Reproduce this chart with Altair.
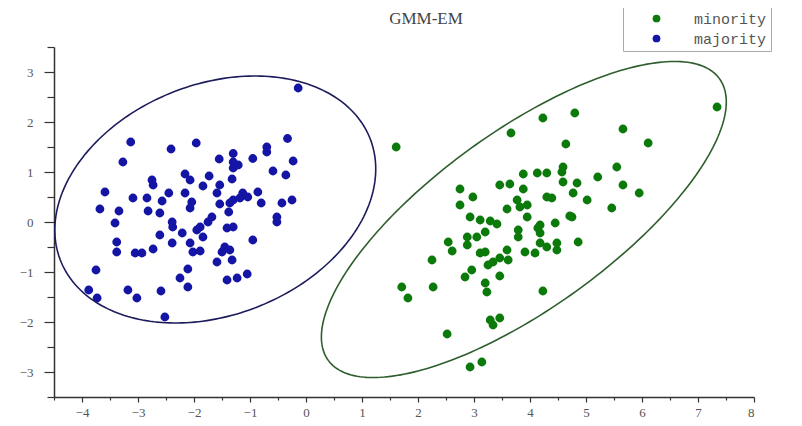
import altair as alt
import numpy as np
import pandas as pd

# ---- data ----
maj_x = [-0.14, -3.13, -1.96, -2.41, -0.33, -0.70, -0.70, -1.30, -3.27, -1.55,
         -1.30, -0.95, -0.23, -1.21, -1.30, -0.59, -0.36, -2.16, -1.73, -2.07,
         -2.75, -1.32, -2.73, -1.84, -1.54, -3.59, -2.45, -2.16, -1.59, -1.13,
         -0.86, -3.09, -2.84, -2.57, -2.04, -1.30, -1.18, -1.04, -0.80, -0.43,
         -0.25, -1.54, -3.68, -3.34, -2.82, -2.61, -2.07, -1.38, -0.52, -0.52,
         -3.41, -2.39, -2.38, -1.89, -1.75, -1.68, -1.30, -1.41, -2.61, -2.21,
         -1.84, -1.95, -0.95, -3.38, -2.39, -2.07, -1.45, -3.38, -3.05, -2.93,
         -2.73, -2.02, -1.89, -1.50, -1.36, -1.59, -1.32, -3.75, -2.11, -2.25,
         -1.41, -1.23, -1.05, -2.11, -3.88, -3.18, -2.59, -3.73, -3.02, -2.52,
         -1.36]
maj_y = [2.68, 1.60, 1.58, 1.46, 1.67, 1.50, 1.40, 1.37, 1.20, 1.26,
         1.20, 1.27, 1.22, 1.14, 1.08, 1.02, 0.94, 0.96, 0.92, 0.84,
         0.84, 0.86, 0.74, 0.72, 0.74, 0.60, 0.58, 0.58, 0.58, 0.58,
         0.60, 0.48, 0.48, 0.42, 0.40, 0.44, 0.48, 0.50, 0.38, 0.38,
         0.44, 0.36, 0.26, 0.22, 0.22, 0.18, 0.28, 0.20, 0.10, 0.00,
         -0.02, 0.00, -0.10, -0.10, 0.00, 0.10, -0.10, -0.12, -0.26, -0.22,
         -0.30, -0.16, -0.36, -0.40, -0.42, -0.42, -0.50, -0.60, -0.62, -0.62,
         -0.54, -0.60, -0.58, -0.60, -0.56, -0.80, -0.76, -0.96, -0.94, -1.12,
         -1.16, -1.12, -1.04, -1.30, -1.36, -1.36, -1.38, -1.52, -1.52, -1.90,
         0.38]

min_x = [7.34, 4.80, 4.23, 3.66, 5.66, 6.11, 4.64, 1.61, 4.59, 5.55,
         5.21, 3.88, 4.13, 4.30, 4.57, 4.59, 4.84, 5.66, 5.95, 3.46,
         3.64, 3.88, 2.75, 2.98, 2.75, 4.30, 4.77, 5.02, 3.77, 3.59,
         3.82, 4.71, 5.46, 3.95, 4.18, 4.45, 4.75, 2.93, 3.11, 3.29,
         3.41, 4.39, 4.14, 4.18, 3.79, 3.79, 3.20, 3.05, 2.88, 2.54,
         2.61, 2.88, 3.11, 3.20, 3.59, 3.46, 3.34, 3.25, 3.61, 3.91,
         4.09, 4.18, 4.30, 4.48, 4.48, 4.86, 2.25, 2.96, 2.84, 3.46,
         2.27, 3.20, 3.23, 1.71, 1.82, 4.23, 3.29, 3.46, 3.34, 2.52,
         2.93, 3.14, 3.95]
min_y = [2.30, 2.18, 2.08, 1.78, 1.86, 1.58, 1.56, 1.50, 1.10, 1.10,
         0.90, 0.96, 0.98, 0.98, 1.00, 0.80, 0.78, 0.74, 0.58, 0.74,
         0.76, 0.66, 0.66, 0.50, 0.34, 0.50, 0.58, 0.44, 0.44, 0.26,
         0.30, 0.12, 0.28, 0.10, -0.06, -0.02, 0.10, 0.10, 0.04, 0.02,
         -0.04, 0.48, -0.12, -0.22, -0.16, -0.30, -0.20, -0.30, -0.30, -0.40,
         -0.58, -0.46, -0.62, -0.60, -0.56, -0.72, -0.80, -0.86, -0.76, -0.60,
         -0.62, -0.42, -0.50, -0.56, -0.42, -0.40, -0.76, -0.96, -1.10, -1.08,
         -1.30, -1.22, -1.40, -1.30, -1.52, -1.38, -1.96, -1.92, -2.06, -2.24,
         -2.90, -2.80, 0.34]

classes = ["minority", "majority"]
colors = ["#0b7a0b", "#1414a5"]

# ellipse parameters (center and covariance-like shape matrix)
ell_names = ["minority", "majority"]
ell_cx = [3.89, -1.62]
ell_cy = [0.05, 0.45]
ell_sxx = [13.07, 8.21]
ell_syy = [9.99, 6.10]
ell_sxy = [8.5, 1.75]
ell_colors = ["#2e5e2e", "#1c1c5c"]

x_major = list(range(-4, 9))
y_major = list(range(-3, 4))
x_minor = [v + 0.5 for v in range(-5, 8)]
y_minor = [v + 0.5 for v in range(-4, 4)]

title_text = ["GMM-EM"]

# ---- build tables ----
pts = pd.DataFrame({
    "x": min_x + maj_x,
    "y": min_y + maj_y,
    "cls": ["minority"] * len(min_x) + ["majority"] * len(maj_x),
})

t = np.linspace(0, 2 * np.pi, 241)
rows = []
for name, cx, cy, sxx, syy, sxy in zip(ell_names, ell_cx, ell_cy, ell_sxx, ell_syy, ell_sxy):
    L = np.linalg.cholesky(np.array([[sxx, sxy], [sxy, syy]]))
    xy = L @ np.vstack([np.cos(t), np.sin(t)])
    for i in range(len(t)):
        rows.append({"x": cx + xy[0, i], "y": cy + xy[1, i], "grp": name, "k": i})
ell = pd.DataFrame(rows)

serif = "Liberation Serif"
xscale = alt.Scale(domain=[-4.5, 8], nice=False, zero=False)
yscale = alt.Scale(domain=[-3.5, 3.5], nice=False, zero=False)

xaxis = alt.Axis(
    values=x_major, format="d", title=None, grid=False, orient="bottom",
    domainColor="#333", domainWidth=1.5, tickColor="#333", tickWidth=1.2,
    tickSize=5, labelFont=serif, labelFontSize=13, labelColor="#555", labelPadding=4,
)
yaxis = alt.Axis(
    values=y_major, format="d", title=None, grid=False, orient="left",
    domainColor="#333", domainWidth=1.5, tickColor="#333", tickWidth=1.2,
    tickSize=10, labelFont=serif, labelFontSize=13, labelColor="#555", labelPadding=11,
)
xaxis_minor = alt.Axis(
    values=x_minor, labels=False, title=None, grid=False, domain=False, orient="bottom",
    tickColor="#333", tickWidth=1.2, tickSize=3,
)
yaxis_minor = alt.Axis(
    values=y_minor, labels=False, title=None, grid=False, domain=False, orient="left",
    tickColor="#333", tickWidth=1.2, tickSize=7,
)

points = alt.Chart(pts).mark_circle(size=78, opacity=1).encode(
    x=alt.X("x:Q", scale=xscale, axis=xaxis),
    y=alt.Y("y:Q", scale=yscale, axis=yaxis),
    color=alt.Color(
        "cls:N",
        scale=alt.Scale(domain=classes, range=colors),
        sort=classes,
        legend=alt.Legend(
            title=None, orient="none", legendX=569, legendY=-40,
            symbolType="circle", symbolSize=60, symbolOffset=22,
            labelFont="Liberation Mono", labelFontSize=15, labelColor="#555",
            labelOffset=30, rowPadding=4, padding=4,
            strokeColor="#aaa", fillColor="white",
        ),
    ),
)

ellipses = alt.Chart(ell).mark_line(strokeWidth=1.6, clip=False).encode(
    x=alt.X("x:Q", scale=xscale, axis=xaxis_minor),
    y=alt.Y("y:Q", scale=yscale, axis=yaxis_minor),
    detail="grp:N",
    order="k:Q",
    stroke=alt.Stroke("grp:N", scale=alt.Scale(domain=ell_names, range=ell_colors), legend=None),
)

title = alt.Chart(pd.DataFrame({"t": title_text})).mark_text(
    font=serif, fontSize=17, color="#444", align="center", baseline="middle",
).encode(
    text="t:N",
    x=alt.value(372),
    y=alt.value(-28),
)

chart = alt.layer(points, ellipses, title).resolve_scale(
    color="independent"
).resolve_axis(
    x="independent", y="independent"
).properties(
    width=700,
    height=350,
    autosize="none",
    padding={"left": 46, "top": 39, "right": 40, "bottom": 21},
).configure_view(stroke=None)

chart.save("out.html", embed_options={"renderer": "svg", "actions": False})
